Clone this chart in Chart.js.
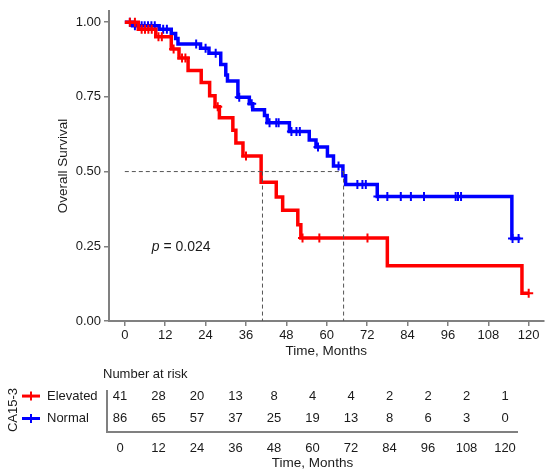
<!DOCTYPE html>
<html>
<head>
<meta charset="utf-8">
<script src="https://cdn.jsdelivr.net/npm/chart.js@4.4.0/dist/chart.umd.min.js"></script>
<style>
  body { margin: 0; background: #fff; }
  #wrap { position: relative; width: 550px; height: 471px; }
  canvas { position: absolute; left: 0; }
  #km { top: 0; }
  #risk { top: 360px; }
</style>
</head>
<body>
<div id="wrap">
  <canvas id="km" width="550" height="365"></canvas>
  <canvas id="risk" width="550" height="111"></canvas>
</div>
<script>
const xTicks = [0, 12, 24, 36, 48, 60, 72, 84, 96, 108, 120];
const yTicks = [0, 0.25, 0.5, 0.75, 1];

// Kaplan-Meier steps: time of each drop and survival after it
const elevatedTimes = [0, 4, 9.2, 13.8, 16.1, 18.8, 22.7, 25.2, 26.8, 28.1, 32.1, 33, 35.1, 40.5, 45, 46.9, 51.4, 52.3, 78, 118, 120];
const elevatedSurv = [1, 0.976, 0.951, 0.91, 0.88, 0.838, 0.798, 0.754, 0.717, 0.68, 0.638, 0.596, 0.552, 0.464, 0.415, 0.371, 0.322, 0.278, 0.185, 0.093, 0.093];
const elevatedCensored = [1.5, 3, 5, 6, 7, 8, 10, 11, 14.5, 17, 18, 27.6, 36, 52.8, 57.8, 72.1, 120];

const normalTimes = [0, 2.3, 10.2, 13.8, 15.1, 15.8, 22.5, 25, 28.5, 30, 30.5, 33.6, 37, 38, 41.5, 42.3, 48.9, 54.8, 56.8, 60.2, 62, 64.8, 65.6, 75, 115, 117.5];
const normalSurv = [1, 0.988, 0.976, 0.962, 0.945, 0.927, 0.913, 0.896, 0.858, 0.823, 0.803, 0.749, 0.727, 0.707, 0.688, 0.663, 0.634, 0.606, 0.582, 0.552, 0.519, 0.486, 0.457, 0.417, 0.276, 0.276];
const normalCensored = [1.5, 3, 5, 5.9, 6.9, 7.9, 8.9, 11.4, 12.5, 21.2, 24, 27, 34, 37.7, 43, 45, 45.7, 49.5, 51, 52, 57.4, 63.5, 69.1, 70.6, 71.6, 75.2, 78, 82, 85, 88.9, 98.3, 99, 99.9, 115.2, 117];

const medianTimes = [40.9, 65];
const medianLevel = 0.5;
const pValueText = '0.024';

const riskGroups = ['Elevated', 'Normal'];
const riskElevated = [41, 28, 20, 13, 8, 4, 4, 2, 2, 2, 1];
const riskNormal = [86, 65, 57, 37, 25, 19, 13, 8, 6, 3, 0];

const FONT = "'Liberation Sans', Arial, sans-serif";
const RED = '#ff0000';
const BLUE = '#0000ff';
const AXIS = '#808080';
const TEXT = '#1a1a1a';

function stepAt(times, surv, t) {
  let v = surv[0];
  for (let i = 0; i < times.length; i++) {
    if (times[i] <= t) v = surv[i];
  }
  return v;
}

function curve(times, surv, color) {
  return {
    data: times.map((t, i) => ({ x: t, y: surv[i] })),
    borderColor: color,
    borderWidth: 3.5,
    stepped: 'before',
    pointRadius: 0,
    fill: false
  };
}

function censorMarks(times, surv, cens, color) {
  return {
    data: cens.map(t => ({ x: t, y: stepAt(times, surv, t) })),
    showLine: false,
    pointStyle: 'cross',
    pointRadius: 4.5,
    pointBorderWidth: 2,
    borderColor: color,
    backgroundColor: color
  };
}

const guide = {
  borderColor: '#555',
  borderWidth: 1,
  borderDash: [4, 3],
  pointRadius: 0,
  fill: false
};

const datasets = [
  Object.assign({ data: [{ x: 0, y: medianLevel }, { x: medianTimes[1], y: medianLevel }] }, guide),
  ...medianTimes.map(m => Object.assign({ data: [{ x: m, y: medianLevel }, { x: m, y: 0 }] }, guide)),
  curve(elevatedTimes, elevatedSurv, RED),
  censorMarks(elevatedTimes, elevatedSurv, elevatedCensored, RED),
  curve(normalTimes, normalSurv, BLUE),
  censorMarks(normalTimes, normalSurv, normalCensored, BLUE)
];

const pLabel = {
  id: 'pLabel',
  afterDatasetsDraw(chart) {
    const { ctx, scales: { x, y } } = chart;
    const px = x.getPixelForValue(8);
    const py = y.getPixelForValue(0.247);
    ctx.save();
    ctx.fillStyle = TEXT;
    ctx.textBaseline = 'middle';
    ctx.textAlign = 'left';
    ctx.font = 'italic 14px ' + FONT;
    ctx.fillText('p', px, py);
    const w = ctx.measureText('p').width;
    ctx.font = '14px ' + FONT;
    ctx.fillText(' = ' + pValueText, px + w, py);
    ctx.restore();
  }
};

new Chart(document.getElementById('km'), {
  type: 'line',
  data: { datasets: datasets },
  options: {
    responsive: false,
    animation: false,
    layout: { padding: { top: 5, right: 5, left: 0, bottom: 0 } },
    plugins: { legend: { display: false }, tooltip: { enabled: false } },
    scales: {
      x: {
        type: 'linear',
        min: -4.7,
        max: 124.4,
        afterBuildTicks: s => { s.ticks = xTicks.map(v => ({ value: v })); },
        afterFit: s => { s.height = 44; },
        grid: { drawOnChartArea: false, color: AXIS, tickLength: 5, lineWidth: 1.5 },
        border: { color: AXIS, width: 2 },
        ticks: { color: TEXT, font: { family: FONT, size: 13 }, padding: 2, maxRotation: 0 },
        title: { display: true, text: 'Time, Months', color: TEXT, font: { family: FONT, size: 13.5 }, padding: { top: 0, bottom: 6 } }
      },
      y: {
        type: 'linear',
        min: 0,
        max: 1.038,
        afterBuildTicks: s => { s.ticks = yTicks.map(v => ({ value: v })); },
        afterFit: s => { s.width = 109; },
        grid: { drawOnChartArea: false, color: AXIS, tickLength: 5, lineWidth: 1.5 },
        border: { color: AXIS, width: 2 },
        ticks: { color: TEXT, font: { family: FONT, size: 13 }, padding: 3, callback: v => v.toFixed(2) },
        title: { display: true, text: 'Overall Survival', color: TEXT, font: { family: FONT, size: 13.5 }, padding: { top: 55, bottom: 0 } }
      }
    }
  },
  plugins: [pLabel]
});

// number at risk table
const riskCounts = [riskElevated, riskNormal];
const groupColors = [RED, BLUE];

const riskTable = {
  id: 'riskTable',
  beforeDatasetsDraw(chart) {
    const { ctx, chartArea: a } = chart;
    ctx.save();
    ctx.strokeStyle = AXIS;
    ctx.lineWidth = 2;
    ctx.beginPath();
    ctx.moveTo(a.left, a.top);
    ctx.lineTo(a.left, a.bottom);
    ctx.lineTo(a.right, a.bottom);
    ctx.stroke();
    ctx.restore();
  },
  afterDatasetsDraw(chart) {
    const ctx = chart.ctx;
    ctx.save();
    ctx.font = '13px ' + FONT;
    ctx.fillStyle = TEXT;
    ctx.textBaseline = 'middle';
    ctx.textAlign = 'center';
    chart.data.datasets.forEach((ds, i) => {
      const meta = chart.getDatasetMeta(i);
      meta.data.forEach((el, j) => {
        ctx.fillText(String(ds.data[j].n), el.x, el.y);
      });
      const rowY = meta.data[0].y;
      // legend key
      ctx.strokeStyle = groupColors[i];
      ctx.lineWidth = 3;
      ctx.beginPath();
      ctx.moveTo(22, rowY);
      ctx.lineTo(40, rowY);
      ctx.stroke();
      ctx.lineWidth = 2;
      ctx.beginPath();
      ctx.moveTo(31, rowY - 4.5);
      ctx.lineTo(31, rowY + 4.5);
      ctx.stroke();
      ctx.textAlign = 'left';
      ctx.fillText(ds.label, 47, rowY);
      ctx.textAlign = 'center';
    });
    ctx.textAlign = 'left';
    ctx.fillText('Number at risk', 103, 14);
    ctx.translate(13, 50);
    ctx.rotate(-Math.PI / 2);
    ctx.textAlign = 'center';
    ctx.fillText('CA15-3', 0, 0);
    ctx.restore();
  }
};

new Chart(document.getElementById('risk'), {
  type: 'scatter',
  data: {
    datasets: riskGroups.map((g, i) => ({
      label: g,
      data: xTicks.map((t, j) => ({ x: t, y: i, n: riskCounts[i][j] })),
      pointRadius: 0,
      showLine: false
    }))
  },
  options: {
    responsive: false,
    animation: false,
    layout: { padding: { left: 107, right: 32, top: 30, bottom: 0 } },
    plugins: { legend: { display: false }, tooltip: { enabled: false } },
    scales: {
      x: {
        type: 'linear',
        min: -4.05,
        max: 124.05,
        afterBuildTicks: s => { s.ticks = xTicks.map(v => ({ value: v })); },
        afterFit: s => { s.height = 39; },
        grid: { display: false, drawTicks: false, tickLength: 0 },
        border: { display: false },
        ticks: { color: TEXT, font: { family: FONT, size: 13 }, padding: 9, maxRotation: 0 },
        title: { display: true, text: 'Time, Months', color: TEXT, font: { family: FONT, size: 13.5 }, padding: { top: 0, bottom: 0 } }
      },
      y: {
        type: 'linear',
        reverse: true,
        min: -0.27,
        max: 1.6,
        afterFit: s => { s.width = 0; },
        grid: { display: false, drawTicks: false, tickLength: 0 },
        border: { display: false },
        ticks: { display: false }
      }
    }
  },
  plugins: [riskTable]
});
</script>
</body>
</html>
